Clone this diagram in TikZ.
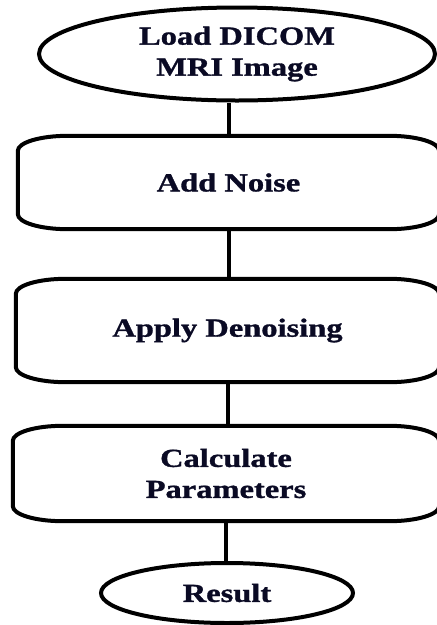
\documentclass[tikz,border=0pt]{standalone}
\usepackage{fontspec}
\setmainfont{Liberation Serif}[FakeStretch=1.25,BoldFeatures={FakeBold=1.2}]
\usetikzlibrary{shapes.geometric}
\definecolor{textnavy}{RGB}{10,10,36}

\begin{document}
\begin{tikzpicture}[x=1pt,y=1pt]
        \tikzset{terminal/.style = {shape=ellipse,draw,line width=4pt,inner sep=0pt,align=center,text=textnavy,font=\fontsize{26}{31}\selectfont\bfseries}}
        \tikzset{process/.style = {shape=rectangle,inner sep=0pt,align=center,text=textnavy,font=\fontsize{26}{31}\selectfont\bfseries}}
        \tikzset{outline/.style = {line width=4pt}}
        \tikzset{edge/.style = {line width=4pt}}
        \useasboundingbox (0,0) rectangle (437,-625);
        % terminals
        \node[terminal,minimum width=396pt,minimum height=93pt] (load) at (237,-54) {Load DICOM\\MRI Image};
        \node[terminal,minimum width=252pt,minimum height=60pt] (result) at (227,-593) {Result};
        % process boxes
        \node[process,minimum width=421pt,minimum height=93pt] (noise) at (228.5,-182.5) {Add Noise};
        \node[process,minimum width=423pt,minimum height=103pt] (denoise) at (227.5,-330.5) {Apply Denoising};
        \node[process,minimum width=426pt,minimum height=95pt] (calc) at (226,-473.5) {Calculate\\Parameters};
        \foreach \n in {noise,denoise,calc}
          \draw[outline] ([xshift=50pt]\n.north west) -- ([xshift=-50pt]\n.north east)
            arc[start angle=90,end angle=0,x radius=50,y radius=15]
            -- ([yshift=15pt]\n.south east)
            arc[start angle=0,end angle=-90,x radius=50,y radius=15]
            -- ([xshift=50pt]\n.south west)
            arc[start angle=270,end angle=180,x radius=50,y radius=15]
            -- ([yshift=-15pt]\n.north west)
            arc[start angle=180,end angle=90,x radius=50,y radius=15]
            -- cycle;

        %edges
        \draw[edge] (noise.north) -- (noise.north |- load.south);
        \draw[edge] (noise.south) -- (noise.south |- denoise.north);
        \draw[edge] (denoise.south) -- (denoise.south |- calc.north);
        \draw[edge] (calc.south) -- (calc.south |- result.north);
\end{tikzpicture}
\end{document}
